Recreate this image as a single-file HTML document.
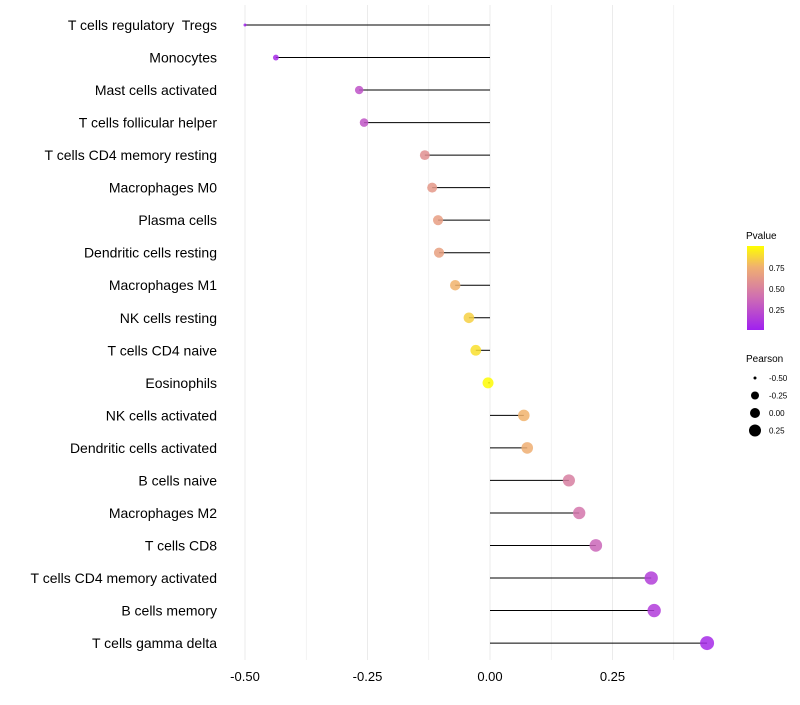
<!DOCTYPE html>
<html><head><meta charset="utf-8"><style>
body{margin:0;background:#fff;font-family:"Liberation Sans",sans-serif}
text{white-space:pre}
</style></head><body>
<svg id="chart" width="800" height="700" xmlns="http://www.w3.org/2000/svg">
<defs><linearGradient id="pg" x1="0" y1="1" x2="0" y2="0">
<stop offset="0" stop-color="#a020f0"/><stop offset="0.4" stop-color="#d070b0"/><stop offset="0.75" stop-color="#f0b070"/><stop offset="1" stop-color="#ffff00"/></linearGradient></defs>
<g id="grid"></g>
<g id="marks"></g>
<g id="ylab"></g>
<g id="xlab"></g>
<g>
<text x="746" y="239" font-size="10">Pvalue</text>
<rect x="747" y="246" width="17" height="84" fill="url(#pg)"/>
<text x="769" y="271" font-size="8">0.75</text>
<text x="769" y="292" font-size="8">0.50</text>
<text x="769" y="313" font-size="8">0.25</text>
</g>
<g id="sizeleg">
<text x="746" y="362" font-size="10">Pearson</text>
</g>
</svg>
<script>
const categories=["T cells regulatory  Tregs","Monocytes","Mast cells activated","T cells follicular helper","T cells CD4 memory resting","Macrophages M0","Plasma cells","Dendritic cells resting","Macrophages M1","NK cells resting","T cells CD4 naive","Eosinophils","NK cells activated","Dendritic cells activated","B cells naive","Macrophages M2","T cells CD8","T cells CD4 memory activated","B cells memory","T cells gamma delta"];
const pearson=[-0.50,-0.437,-0.267,-0.257,-0.133,-0.118,-0.106,-0.104,-0.071,-0.043,-0.029,-0.004,0.069,0.076,0.161,0.182,0.216,0.329,0.335,0.443];
const pvalues=[0.02,0.05,0.25,0.27,0.57,0.62,0.65,0.66,0.76,0.85,0.9,0.99,0.76,0.74,0.48,0.43,0.35,0.15,0.14,0.05];
const xTicks=[-0.5,-0.25,0,0.25];
const xTickLabels=["-0.50","-0.25","0.00","0.25"];
const sizeLegendVals=[-0.5,-0.25,0,0.25];
const sizeLegendLabels=["-0.50","-0.25","0.00","0.25"];
const NS="http://www.w3.org/2000/svg";
const X=v=>490+v*490;
const Y=i=>25+i*32.53;
function R(v){const s=Math.max(0,(v+0.5)/0.943);return 1.5+5.5*Math.sqrt(s);}
const stops=[[0,[160,32,240]],[0.4,[208,112,176]],[0.75,[240,176,112]],[1,[255,255,0]]];
function col(p){for(let i=1;i<stops.length;i++){if(p<=stops[i][0]){const a=stops[i-1],b=stops[i],t=(p-a[0])/(b[0]-a[0]);return "rgb("+a[1].map((c,k)=>Math.round(c+(b[1][k]-c)*t)).join(",")+")";}}return "rgb(255,255,0)";}
function mk(t,at,parent){const e=document.createElementNS(NS,t);for(const k in at)e.setAttribute(k,at[k]);parent.appendChild(e);return e;}
const grid=document.getElementById("grid"),marks=document.getElementById("marks"),ylab=document.getElementById("ylab"),xlab=document.getElementById("xlab");
[-0.5,-0.375,-0.25,-0.125,0,0.125,0.25,0.375].forEach(v=>{const l=mk("line",{x1:X(v),x2:X(v),y1:5,y2:660,stroke:"#ebebeb","stroke-width":v*8%2===0?1:0.6},grid);

});
categories.forEach((c,i)=>{
const l=mk("line",{x1:X(0),x2:X(pearson[i]),y1:Y(i),y2:Y(i),stroke:"#000","stroke-width":1},marks);


const d=mk("circle",{cx:X(pearson[i]),cy:Y(i),r:R(pearson[i]),fill:col(pvalues[i]),"fill-opacity":0.85},marks);


const t=mk("text",{x:217,y:Y(i)+5,"text-anchor":"end","font-size":14,fill:"#000"},ylab);t.textContent=c;


});
xTicks.forEach((v,i)=>{const t=mk("text",{x:X(v),y:681,"text-anchor":"middle","font-size":13,fill:"#000"},xlab);t.textContent=xTickLabels[i];

});
const sl=document.getElementById("sizeleg");
const legR=[1.5,4,5,6];
sizeLegendVals.forEach((v,i)=>{const y=378+i*17.5;
const c=mk("circle",{cx:755,cy:y,r:legR[i],fill:"#000"},sl);


const t=mk("text",{x:769,y:y+3,"font-size":8},sl);t.textContent=sizeLegendLabels[i];

});
</script>
</body></html>
